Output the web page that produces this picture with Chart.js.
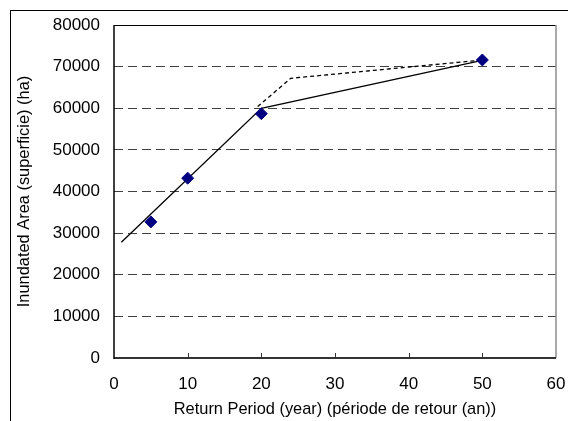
<!DOCTYPE html>
<html>
<head>
<meta charset="utf-8">
<title>Inundated Area vs Return Period</title>
<script src="https://cdn.jsdelivr.net/npm/chart.js@4.4.1/dist/chart.umd.min.js"></script>
<style>
    html, body { margin: 0; padding: 0; background: #fff; }
    #wrap { width: 568px; height: 421px; position: relative; }
</style>
</head>
<body>
<div id="wrap"><canvas id="graphCanvas"></canvas></div>
<script>
// observed inundated areas per return period
var returnPeriod = [5, 10, 20, 50];
var area = [32700, 43200, 58700, 71600];

// fitted curve (solid) and alternative curve (dashed)
var fitX = [1, 20, 49.5];
var fitY = [27800, 60000, 71300];
var altX = [19.5, 24, 49.5];
var altY = [60400, 67200, 71500];

var xTicks = [0, 10, 20, 30, 40, 50, 60];
var yTicks = [0, 10000, 20000, 30000, 40000, 50000, 60000, 70000, 80000];

function toPoints(xs, ys) {
    var pts = [];
    for (var i in xs) {
        pts.push({ x: xs[i], y: ys[i] });
    }
    return pts;
}

var fontName = "'Liberation Sans', Arial, sans-serif";

// frame around the whole chart + plot area border + inward x ticks
var framePlugin = {
    id: 'frame',
    beforeDraw: function (chart) {
        var ctx = chart.ctx;
        ctx.save();
        ctx.strokeStyle = '#000';
        ctx.lineWidth = 1;
        ctx.strokeRect(10.5, 10.5, 620, 480);
        ctx.restore();
    },
    afterDatasetsDraw: function (chart) {
        var ctx = chart.ctx;
        var a = chart.chartArea;
        var xs = chart.scales.x;
        ctx.save();
        // top
        ctx.strokeStyle = '#000';
        ctx.lineWidth = 1;
        ctx.beginPath();
        ctx.moveTo(a.left, a.top + 0.5);
        ctx.lineTo(a.right, a.top + 0.5);
        ctx.stroke();
        // right
        ctx.strokeStyle = '#8c8c8c';
        ctx.lineWidth = 1.5;
        ctx.beginPath();
        ctx.moveTo(a.right, a.top);
        ctx.lineTo(a.right, a.bottom);
        ctx.stroke();
        // bottom axis
        ctx.strokeStyle = '#333';
        ctx.lineWidth = 2;
        ctx.beginPath();
        ctx.moveTo(a.left, a.bottom);
        ctx.lineTo(a.right, a.bottom);
        ctx.stroke();
        // left axis
        ctx.strokeStyle = '#000';
        ctx.lineWidth = 1.5;
        ctx.beginPath();
        ctx.moveTo(a.left, a.top);
        ctx.lineTo(a.left, a.bottom + 1);
        ctx.stroke();
        // tick marks pointing into the plot
        ctx.strokeStyle = '#333';
        ctx.lineWidth = 1;
        for (var i = 1; i < xTicks.length - 1; i++) {
            var px = Math.round(xs.getPixelForValue(xTicks[i])) + 0.5;
            ctx.beginPath();
            ctx.moveTo(px, a.bottom);
            ctx.lineTo(px, a.bottom - 5);
            ctx.stroke();
        }
        ctx.restore();
    }
};

var chartdata = {
    datasets: [
        {
            label: 'observed',
            data: toPoints(returnPeriod, area),
            showLine: false,
            pointStyle: 'rectRot',
            pointRadius: 6,
            backgroundColor: '#000080',
            borderColor: '#000080',
            borderWidth: 1,
            order: 0
        },
        {
            label: 'fit',
            data: toPoints(fitX, fitY),
            showLine: true,
            pointRadius: 0,
            borderColor: '#000',
            borderWidth: 1.3,
            fill: false,
            order: 1
        },
        {
            label: 'alt',
            data: toPoints(altX, altY),
            showLine: true,
            pointRadius: 0,
            borderColor: '#000',
            borderWidth: 1.3,
            borderDash: [4, 3],
            fill: false,
            order: 2
        }
    ]
};

var graphTarget = document.getElementById('graphCanvas');

var scatterGraph = new Chart(graphTarget, {
    type: 'scatter',
    data: chartdata,
    plugins: [framePlugin],
    options: {
        responsive: true,
        maintainAspectRatio: false,
        animation: false,
        layout: {
            padding: { left: 15, right: 12, top: 25, bottom: 0 }
        },
        plugins: {
            legend: { display: false },
            tooltip: { enabled: false }
        },
        scales: {
            x: {
                type: 'linear',
                min: 0,
                max: 60,
                afterBuildTicks: function (axis) {
                    axis.ticks = xTicks.map(function (v) { return { value: v }; });
                },
                afterFit: function (axis) {
                    axis.height = 63;
                    axis.paddingLeft = 0;
                    axis.paddingRight = 0;
                },
                grid: { display: false, drawTicks: false },
                border: { display: false },
                ticks: {
                    color: '#000',
                    padding: 16,
                    maxRotation: 0,
                    font: { family: fontName, size: 17 }
                },
                title: {
                    display: true,
                    text: 'Return Period (year) (période de retour (an))',
                    color: '#000',
                    padding: { top: 0, bottom: 2 },
                    font: { family: fontName, size: 16.4 }
                }
            },
            y: {
                type: 'linear',
                min: 0,
                max: 80000,
                afterBuildTicks: function (axis) {
                    axis.ticks = yTicks.map(function (v) { return { value: v }; });
                },
                afterFit: function (axis) {
                    axis.width = 99;
                    axis.paddingTop = 0;
                    axis.paddingBottom = 0;
                },
                grid: {
                    drawTicks: false,
                    color: function (c) {
                        var v = c.tick ? c.tick.value : 0;
                        return (v === 0 || v === 80000) ? 'rgba(0,0,0,0)' : '#404040';
                    },
                    lineWidth: 1
                },
                border: { display: false, dash: [9, 5] },
                ticks: {
                    color: '#000',
                    padding: 14,
                    font: { family: fontName, size: 17 },
                    callback: function (v) { return String(v); }
                },
                title: {
                    display: true,
                    text: 'Inundated Area (superficie) (ha)',
                    color: '#000',
                    padding: { top: 0, bottom: 0 },
                    font: { family: fontName, size: 16.4 }
                }
            }
        }
    }
});
</script>
</body>
</html>
